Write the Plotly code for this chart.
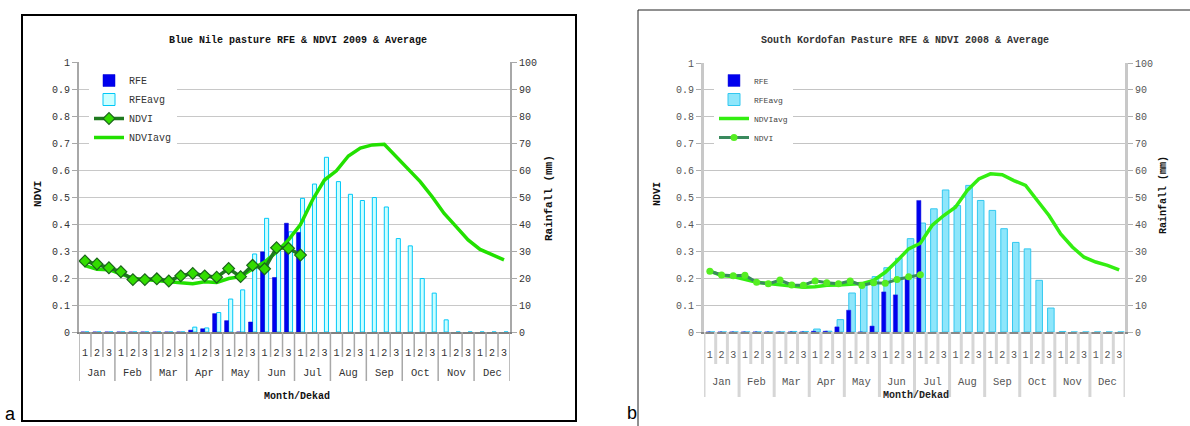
import plotly.graph_objects as go

W, H = 1190, 426

months = ["Jan", "Feb", "Mar", "Apr", "May", "Jun", "Jul", "Aug", "Sep", "Oct", "Nov", "Dec"]
dekad_names = ["1", "2", "3"]
dekads = [d for m in months for d in dekad_names]
x = list(range(1, len(dekads) + 1))

# ---- Panel a : Blue Nile pasture 2009 ----
a_rfe = [0, 0, 0, 0, 0, 0, 0, 0, 0, 0.7, 1.2, 6.8, 4.2, 0, 3.7, 29.7, 20.2, 40.3, 36.9,
         None, None, None, None, None, None, None, None, None, None, None, None, None, None, None, None, None]
a_rfe_avg = [0, 0, 0, 0, 0, 0, 0, 0, 0, 1.8, 1.5, 7.2, 12.2, 15.6, 28.9, 42.1, 30.5, 37.1, 49.5,
             54.8, 64.7, 55.7, 51.0, 48.7, 49.8, 46.3, 34.6, 31.9, 19.8, 14.4, 4.5, 0, 0, 0, 0, 0]
a_ndvi = [0.263, 0.252, 0.238, 0.223, 0.194, 0.194, 0.197, 0.189, 0.208, 0.217, 0.208, 0.203,
          0.235, 0.205, 0.247, 0.234, 0.312, 0.310, 0.285,
          None, None, None, None, None, None, None, None, None, None, None, None, None, None, None, None, None]
a_ndvi_avg = [0.246, 0.232, 0.231, 0.216, 0.199, 0.194, 0.189, 0.186, 0.182, 0.179, 0.186, 0.183,
              0.198, 0.205, 0.234, 0.259, 0.296, 0.341, 0.398, 0.489, 0.563, 0.597, 0.652, 0.681,
              0.693, 0.695, 0.649, 0.606, 0.557, 0.501, 0.439, 0.390, 0.341, 0.306, 0.285, 0.267]

# ---- Panel b : South Kordofan pasture 2008 ----
b_rfe = [0, 0, 0, 0, 0, 0, 0, 0, 0, 0.3, 0.3, 1.9, 8.1, 0, 2.2, 14.9, 13.8, 19.8, 48.9,
         None, None, None, None, None, None, None, None, None, None, None, None, None, None, None, None, None]
b_rfe_avg = [0, 0, 0, 0, 0, 0, 0, 0.2, 0.2, 1.1, 0.3, 4.6, 14.5, 17.5, 20.6, 23.9, 27.4, 34.7, 40.5,
             45.8, 52.8, 47.0, 54.5, 48.9, 45.2, 38.4, 33.3, 30.9, 19.2, 8.9, 0.2, 0, 0, 0, 0, 0]
b_ndvi = [0.226, 0.212, 0.209, 0.211, 0.185, 0.179, 0.193, 0.175, 0.174, 0.190, 0.183, 0.179,
          0.190, 0.173, 0.183, 0.181, 0.195, 0.205, 0.213,
          None, None, None, None, None, None, None, None, None, None, None, None, None, None, None, None, None]
b_ndvi_avg = [0.226, 0.210, 0.206, 0.197, 0.185, 0.180, 0.175, 0.169, 0.166, 0.168, 0.174, 0.175,
              0.178, 0.180, 0.192, 0.222, 0.264, 0.309, 0.330, 0.396, 0.433, 0.464, 0.526, 0.569,
              0.588, 0.585, 0.563, 0.545, 0.489, 0.433, 0.365, 0.316, 0.278, 0.260, 0.248, 0.231]

titles = ["Blue Nile pasture RFE & NDVI 2009 & Average",
          "South Kordofan Pasture RFE & NDVI 2008 & Average"]

MONO = "Liberation Mono"


def px(p):
    return p / W


def py(p):
    return 1 - p / H


fig = go.Figure()

# Panel a traces (bars on rainfall axis y, lines on NDVI axis y2 drawn above)
fig.add_trace(go.Bar(x=x, y=a_rfe_avg, name="RFEavg", xaxis="x", yaxis="y",
                     marker=dict(color="#ccffff", line=dict(color="#00c8f8", width=1)),
                     width=0.34, offset=0.0, legend="legend", legendrank=2))
fig.add_trace(go.Bar(x=x, y=a_rfe, name="RFE", xaxis="x", yaxis="y",
                     marker=dict(color="#0000ee", line=dict(color="#0000cc", width=0.5)),
                     width=0.33, offset=-0.34, legend="legend", legendrank=1))
fig.add_trace(go.Scatter(x=x, y=a_ndvi_avg, name="NDVIavg", xaxis="x", yaxis="y2", mode="lines",
                         line=dict(color="#22e000", width=3.5), legend="legend", legendrank=4))
fig.add_trace(go.Scatter(x=x, y=a_ndvi, name="NDVI", xaxis="x", yaxis="y2", mode="lines+markers",
                         line=dict(color="#1f7a1f", width=3.5),
                         marker=dict(symbol="diamond", size=9, color="#33dd00",
                                     line=dict(color="#1a661a", width=1.2)),
                         legend="legend", legendrank=3))

# Panel b traces
fig.add_trace(go.Bar(x=x, y=b_rfe_avg, name="RFEavg", xaxis="x2", yaxis="y3",
                     marker=dict(color="#8ee6fb", line=dict(color="#33c8f0", width=1)),
                     width=0.56, offset=-0.12, legend="legend2", legendrank=2))
fig.add_trace(go.Bar(x=x, y=b_rfe, name="RFE", xaxis="x2", yaxis="y3",
                     marker=dict(color="#0000ee", line=dict(color="#2222dd", width=0.5)),
                     width=0.36, offset=-0.31, legend="legend2", legendrank=1))
fig.add_trace(go.Scatter(x=x, y=b_ndvi_avg, name="NDVIavg", xaxis="x2", yaxis="y4", mode="lines",
                         line=dict(color="#33ee11", width=3.5), legend="legend2", legendrank=3))
fig.add_trace(go.Scatter(x=x, y=b_ndvi, name="NDVI", xaxis="x2", yaxis="y4", mode="lines+markers",
                         line=dict(color="#3a8a5e", width=3),
                         marker=dict(symbol="circle", size=7, color="#55ee22"),
                         legend="legend2", legendrank=4))

tickfont_a = dict(family=MONO, size=10, color="#333333")
tickfont_b = dict(family=MONO, size=10, color="#555555")

dom_a = [px(79), px(510)]
dom_b = [px(704), px(1125)]
ydom_a = [py(332), py(62)]
ydom_b = [py(332), py(63)]

common_x = dict(range=[0.5, len(dekads) + 0.5], tickmode="array", tickvals=x, ticktext=dekads,
                showgrid=False, zeroline=False, ticks="", showline=True, automargin=False)

fig.update_layout(
    width=W, height=H, margin=dict(l=0, r=0, t=0, b=0, autoexpand=False), autosize=False,
    paper_bgcolor="white", plot_bgcolor="white",
    barmode="overlay", showlegend=True,
    xaxis=dict(domain=dom_a, anchor="y", linecolor="#808080", linewidth=1.5,
               tickfont=tickfont_a, ticklabelstandoff=10, **common_x),
    yaxis=dict(domain=ydom_a, anchor="x", side="right", range=[0, 100], dtick=10, automargin=False,
               showgrid=True, gridcolor="#c8c8c8", gridwidth=1, zeroline=False,
               showline=True, linecolor="#a8a8a8", linewidth=2, mirror=False,
               ticks="outside", ticklen=5, tickcolor="#a8a8a8", tickfont=tickfont_a),
    yaxis2=dict(anchor="x", overlaying="y", side="left", range=[0, 1], dtick=0.1, automargin=False,
                showgrid=False, zeroline=False, showline=True, linecolor="#a8a8a8", linewidth=2,
                ticks="outside", ticklen=5, tickcolor="#a8a8a8", tickfont=tickfont_a),
    xaxis2=dict(domain=dom_b, anchor="y3", linecolor="#888888", linewidth=2,
                tickfont=tickfont_b, ticklabelstandoff=12, **common_x),
    yaxis3=dict(domain=ydom_b, anchor="x2", side="right", range=[0, 100], dtick=10, automargin=False,
                showgrid=True, gridcolor="#c4c4c4", gridwidth=1, zeroline=False,
                showline=True, linecolor="#c8c8c8", linewidth=3,
                ticks="outside", ticklen=5, tickcolor="#b0b0b0", tickfont=tickfont_b),
    yaxis4=dict(anchor="x2", overlaying="y3", side="left", range=[0, 1], dtick=0.1, automargin=False,
                showgrid=False, zeroline=False, showline=True, linecolor="#c8c8c8", linewidth=3,
                ticks="outside", ticklen=5, tickcolor="#b0b0b0", tickfont=tickfont_b),
    legend=dict(x=px(89), y=py(66), xanchor="left", yanchor="top", bgcolor="white",
                borderwidth=0, font=dict(family=MONO, size=10, color="#333333"),
                traceorder="normal", itemclick=False),
    legend2=dict(x=px(714), y=py(66), xanchor="left", yanchor="top", bgcolor="white",
                 borderwidth=0, font=dict(family=MONO, size=8, color="#444444"),
                 traceorder="normal", itemclick=False),
)

ann = []
shapes = []


def label(text, xx, yy, size, color="#111111", angle=0, xref="paper"):
    return dict(text=text, x=xx, y=py(yy), xref=xref, yref="paper", xanchor="center",
                yanchor="middle", textangle=angle, showarrow=False,
                font=dict(family=MONO, size=size, color=color))


# Titles and axis titles
ann.append(label("<b>" + titles[0] + "</b>", px(298), 41, 10))
ann.append(label("<b>" + titles[1] + "</b>", px(905), 40, 10, "#333333"))
for txt, xx, yy, sz in [("NDVI", 38, 194, 11), ("Rainfall (mm)", 549, 198, 11),
                        ("NDVI", 657, 194, 10), ("Rainfall (mm)", 1163, 195, 10)]:
    ann.append(label("<b>" + txt + "</b>", px(xx), yy, sz, angle=-90))
ann.append(label("<b>Month/Dekad</b>", px(297), 396, 10))
ann.append(label("<b>Month/Dekad</b>", px(916), 395, 10, "#222222"))

# Month labels placed on the category axes
for i, m in enumerate(months):
    xc = x[3 * i + 1]
    ann.append(label(m, xc, 373, 10.5, "#333333", xref="x"))
    ann.append(label(m, xc, 382, 10.5, "#555555", xref="x2"))

# Panel letters
ann.append(dict(text="a", x=px(10), y=py(414), xref="paper", yref="paper", xanchor="center",
                yanchor="middle", showarrow=False,
                font=dict(family="Liberation Sans", size=18, color="black")))
ann.append(dict(text="b", x=px(632), y=py(413), xref="paper", yref="paper", xanchor="center",
                yanchor="middle", showarrow=False,
                font=dict(family="Liberation Sans", size=18, color="black")))

# Category separators (dekad / month boundaries)
for b in range(len(dekads) + 1):
    xb = b + 0.5
    is_month = (b % 3 == 0)
    shapes.append(dict(type="line", xref="x", yref="paper", x0=xb, x1=xb,
                       y0=py(332), y1=py(381 if is_month else 357),
                       line=dict(color="#a8a8a8", width=1.5)))
    shapes.append(dict(type="line", xref="x2", yref="paper", x0=xb, x1=xb,
                       y0=py(332), y1=py(397 if is_month else 364),
                       line=dict(color="#d6d6d6", width=3)))

# Frames
shapes.append(dict(type="rect", xref="paper", yref="paper", x0=px(22), x1=px(576),
                   y0=py(421), y1=py(15), line=dict(color="black", width=2), layer="below"))
shapes.append(dict(type="line", xref="paper", yref="paper", x0=px(638), x1=1.0,
                   y0=py(10), y1=py(10), line=dict(color="#222222", width=1)))
shapes.append(dict(type="line", xref="paper", yref="paper", x0=px(638), x1=px(638),
                   y0=py(10), y1=0, line=dict(color="#222222", width=1)))

fig.update_layout(annotations=ann, shapes=shapes)

fig.write_html(
    "out.html",
    config={"displayModeBar": False, "responsive": False},
    post_script=("document.documentElement.style.margin='0';"
                 "document.body.style.margin='0';"),
)
